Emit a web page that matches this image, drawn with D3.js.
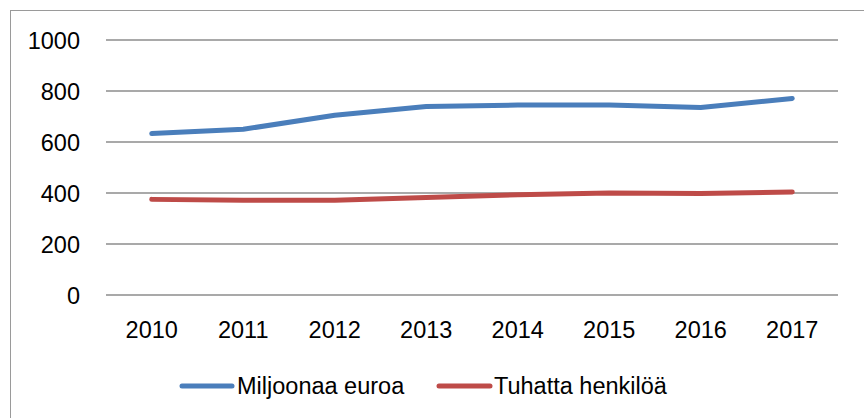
<!DOCTYPE html>
<html>
<head>
<meta charset="utf-8">
<script src="https://cdn.jsdelivr.net/npm/d3@7"></script>
<style>
  html, body { margin: 0; padding: 0; background: #fff; }
  svg { display: block; }
  text { font-family: "Liberation Sans", Arial, sans-serif; fill: #000; }
</style>
</head>
<body>
<svg id="chart" width="864" height="418"></svg>
<script>
const categories = ["2010", "2011", "2012", "2013", "2014", "2015", "2016", "2017"];
const seriesNames = ["Miljoonaa euroa", "Tuhatta henkilöä"];
const miljoonaaEuroa = [633, 650, 705, 739, 745, 745, 735, 771];
const tuhattaHenkiloa = [375, 372, 372, 382, 393, 400, 398, 404];
const yTicks = [0, 200, 400, 600, 800, 1000];
const colors = ["#4A7EBB", "#BE4B48"];

const svg = d3.select("#chart");

// outer chart border (cropped on right and bottom)
svg.append("rect")
  .attr("x", 10.5).attr("y", 10.5)
  .attr("width", 1000).attr("height", 1000)
  .attr("fill", "none").attr("stroke", "#9a9a9a").attr("stroke-width", 1);

const plotLeft = 106, plotRight = 838, plotTop = 40, plotBottom = 295;

const x = d3.scaleBand().domain(categories).range([plotLeft, plotRight]).padding(0);
const y = d3.scaleLinear().domain([0, 1000]).range([plotBottom, plotTop]);

// gridlines
svg.append("g")
  .selectAll("line")
  .data(yTicks)
  .join("line")
  .attr("x1", plotLeft).attr("x2", plotRight)
  .attr("y1", d => y(d)).attr("y2", d => y(d))
  .attr("stroke", "#8c8c8c").attr("stroke-width", 1.5);

// y axis labels
const yAxis = d3.axisLeft(y).tickValues(yTicks).tickFormat(d3.format("d")).tickSize(0).tickPadding(26);
const gy = svg.append("g").attr("transform", `translate(${plotLeft},0)`).call(yAxis);
gy.select(".domain").remove();
gy.selectAll("text")
  .style("font-family", '"Liberation Sans", Arial, sans-serif')
  .attr("font-size", 23.5).attr("fill", "#000").attr("dy", "0.36em");

// x axis labels
const xAxis = d3.axisBottom(x).tickSize(0).tickPadding(0);
const gx = svg.append("g").attr("transform", `translate(0,${plotBottom})`).call(xAxis);
gx.select(".domain").remove();
gx.selectAll("text")
  .style("font-family", '"Liberation Sans", Arial, sans-serif')
  .attr("font-size", 23.5).attr("fill", "#000")
  .attr("y", 43).attr("dy", "0");

// lines
const series = [miljoonaaEuroa, tuhattaHenkiloa];
const line = d3.line()
  .x((d, i) => x(categories[i]) + x.bandwidth() / 2)
  .y(d => y(d));

series.forEach((vals, si) => {
  svg.append("path")
    .datum(vals)
    .attr("d", line)
    .attr("fill", "none")
    .attr("stroke", colors[si])
    .attr("stroke-width", 5)
    .attr("stroke-linecap", "round")
    .attr("stroke-linejoin", "round");
});

// legend
const legendY = 386;
const legendItems = [
  { x1: 182, x2: 232, tx: 237 },
  { x1: 439, x2: 490, tx: 494 }
];
legendItems.forEach((it, i) => {
  svg.append("line")
    .attr("x1", it.x1).attr("x2", it.x2)
    .attr("y1", legendY).attr("y2", legendY)
    .attr("stroke", colors[i]).attr("stroke-width", 5)
    .attr("stroke-linecap", "round");
  svg.append("text")
    .attr("x", it.tx).attr("y", legendY)
    .attr("dy", "0.36em")
    .attr("font-size", 23.5)
    .text(seriesNames[i]);
});
</script>
</body>
</html>
